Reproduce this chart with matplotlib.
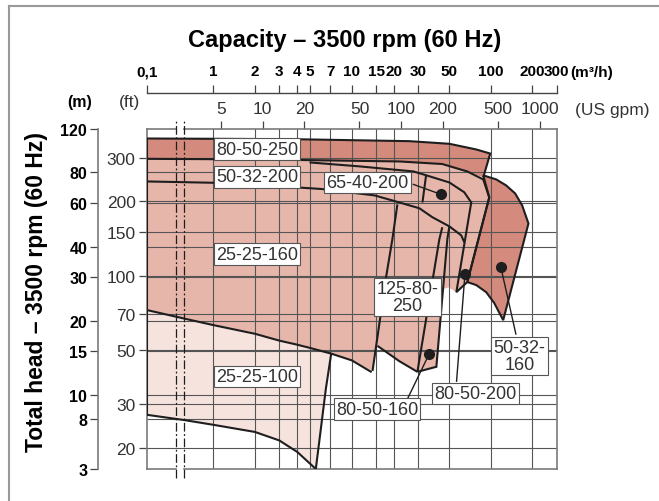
import numpy as np
import matplotlib
matplotlib.use("Agg")
import matplotlib.pyplot as plt

plt.rcParams['font.family'] = ['Liberation Sans', 'DejaVu Sans']

# ---- axis ticks ----
flow_ticks = [0.1, 1, 2, 3, 4, 5, 7, 10, 15, 20, 30, 50, 100, 200, 300]
flow_labels = ['0,1', '1', '2', '3', '4', '5', '7', '10', '15', '20', '30', '50', '100', '200', '300']
gpm_ticks = [5, 10, 20, 50, 100, 200, 500, 1000]
m_ticks = [120, 80, 60, 40, 30, 20, 15, 10, 8, 5.0]
m_labels = ['120', '80', '60', '40', '30', '20', '15', '10', '8', '3']
ft_ticks = [300, 200, 150, 100, 70, 50, 30, 20]
break_q = [0.28, 0.36]

# ---- fills (flow m3/h, head m) ----
medium_q = [0.1, 1, 4.2, 22, 44.9, 68, 88.6, 97.9, 68, 56.7, 50, 45.5, 40.7, 29.7, 22, 17.2, 15.3,
            14.1, 10, 7.1, 5, 3, 1, 0.367, 0.1]
medium_h = [90.8, 90.5, 89.8, 88.6, 86.5, 80.7, 74.9, 63.3, 28.7, 26.1, 27.3, 26.9, 13.0, 12.4, 13.7, 15.1, 15.8,
            12.5, 13.8, 14.7, 15.5, 16.6, 19.2, 20.4, 22.1]

d250_q = [0.1, 1, 4.2, 26, 50.5, 78.9, 99.5, 88.6, 68, 44.9, 22, 4.2, 1, 0.1]
d250_h = [109.8, 109.5, 109, 107.1, 104.5, 99.1, 95.4, 76.3, 80.7, 86.5, 88.6, 89.8, 90.5, 90.8]

d160_q = [88.6, 110, 129.7, 150.5, 169, 187.7, 123.4, 106.3, 93.1, 78.9, 68, 97.9, 88.6]
d160_h = [77.8, 74.9, 70.8, 65.7, 58.8, 49.6, 20.1, 23.6, 26.1, 27.9, 28.7, 63.3, 77.8]

light_q = [0.1, 0.367, 1, 2, 3, 4, 5, 7.1, 6.5, 5.5, 4.05, 3.0, 2.0, 1.0, 0.367, 0.1]
light_h = [22.1, 20.4, 19.2, 17.7, 16.6, 16.0, 15.5, 14.7, 10.6, 5.0, 5.86, 6.53, 7.07, 7.56, 7.9, 8.3]

# ---- outline curves ----
curves = [
    ([0.1, 1, 4.2, 26, 50.5, 78.9, 99.5, 88.6], [109.8, 109.5, 109, 107.1, 104.5, 99.1, 95.4, 76.3]),
    ([0.1, 1, 4.2, 22, 44.9, 68, 88.6, 97.9, 68], [90.8, 90.5, 89.8, 88.6, 86.5, 80.7, 74.9, 63.3, 28.7]),
    (d160_q, d160_h),
    ([4.96, 11.4, 27.8, 34.5, 50.5, 64.7, 72.6, 56.7, 68], [87.8, 84.6, 80.7, 77.8, 72.8, 66.4, 60.4, 26.1, 28.7]),
    ([34.3, 32.3], [77.8, 60.4]),
    ([0.1, 1, 1.84, 6.03, 14.6, 22, 30.7, 38.1, 50.5, 61.5, 64.7],
     [73.5, 72.6, 71.5, 68.5, 64.5, 60.4, 57.2, 52.6, 48.3, 44.4, 41.6]),
    ([21.3, 19.6, 17.7, 14.1], [59.3, 42.8, 30.3, 12.5]),
    ([44.9, 42.75, 29.7], [47.9, 42.8, 12.4]),
    ([15.3, 17.2, 22, 29.7], [15.8, 15.1, 13.7, 12.4]),
    ([50.5, 48.8, 40.7, 29.7], [48.3, 42.8, 13.0, 12.4]),
    ([0.1, 0.367, 1, 2, 3, 4, 5, 7.1, 10, 13.9], [22.1, 20.4, 19.2, 17.7, 16.6, 16.0, 15.5, 14.7, 13.8, 12.36]),
    ([7.1, 6.5, 5.5, 4.05, 3.0, 2.0, 1.0, 0.367, 0.1], [14.7, 10.6, 5.0, 5.86, 6.53, 7.07, 7.56, 7.9, 8.3]),
    ([0.1, 0.1], [109.8, 8.3]),
]

# ---- labels ----
labels = ['80-50-250', '50-32-200', '25-25-160', '25-25-100', '65-40-200',
          '125-80-\n250', '80-50-160', '80-50-200', '50-32-\n160']
label_q = [2.08, 2.08, 2.08, 2.08, 12.95, 25.2, 15.2, 78.1, 161.7]
label_h = [99.5, 76.7, 37.3, 11.9, 72.9, 24.9, 8.76, 10.14, 14.4]

dot_q = [44.0, 65.4, 118.8, 36.2]
dot_h = [65.1, 30.9, 32.9, 14.7]
lead_q = [27.8, 56.9, 152.3, 25.3]
lead_h = [71.5, 11.36, 17.66, 9.68]

SQ = 0.479


def fwd(x):
    lx = np.log10(np.clip(np.asarray(x, float), 1e-9, None))
    return np.where(lx >= 0, lx, lx * SQ)


def inv(y):
    y = np.asarray(y, float)
    return np.where(y >= 0, 10 ** y, 10 ** (y / SQ))


dark = '#d48a7c'
medium = '#e7b6ab'
light = '#f6e3de'
ink = '#1e1e1e'
frame = '#7a7a7a'

fig = plt.figure(figsize=(6.59, 5.02), dpi=100)
ax = fig.add_axes([146.7 / 659, 32 / 502, 410 / 659, 340 / 502])
ax.set_xscale('function', functions=(fwd, inv))
ax.set_yscale('log')
ax.set_xlim(0.1, 300)
ax.set_ylim(5.0, 120)

ax.fill(medium_q, medium_h, color=medium, lw=0, zorder=1)
ax.fill(d250_q, d250_h, color=dark, lw=0, zorder=1.1)
ax.fill(d160_q, d160_h, color=dark, lw=0, zorder=1.1)
ax.fill(light_q, light_h, color=light, lw=0, zorder=1.2)

for q in flow_ticks[1:-1]:
    ax.axvline(q, color='#555555', lw=0.8, zorder=2)
for h in m_ticks[1:-1]:
    ax.axhline(h, color='#555555', lw=0.8, zorder=2)
for f in ft_ticks:
    ax.axhline(f * 0.3048, color='#555555', lw=0.8, zorder=2)

for cq, ch in curves:
    ax.plot(cq, ch, color=ink, lw=1.5, zorder=3, solid_joinstyle='miter', solid_capstyle='butt')

for i in range(len(dot_q)):
    ax.plot([lead_q[i], dot_q[i]], [lead_h[i], dot_h[i]], color=ink, lw=1.0, zorder=4)
ax.plot(dot_q, dot_h, 'o', ms=7, color=ink, zorder=5)

for t, q, h in zip(labels, label_q, label_h):
    ax.text(q, h, t, ha='center', va='center', fontsize=13, color='#333333', zorder=6,
            linespacing=1.0,
            bbox=dict(boxstyle='square,pad=0.12', fc='white', ec='#555555', lw=0.8))

# spines / axis break
for s in ['top', 'bottom']:
    ax.spines[s].set_visible(False)
for s in ['left', 'right']:
    ax.spines[s].set_color(frame)
    ax.spines[s].set_linewidth(1.2)
xt = ax.get_xaxis_transform()
for yy in [0, 1]:
    ax.plot([0.1, break_q[0]], [yy, yy], color=frame, lw=1.2, transform=xt, clip_on=False, zorder=2)
    ax.plot([break_q[1], 300], [yy, yy], color=frame, lw=1.2, transform=xt, clip_on=False, zorder=2)
for b in break_q:
    ax.plot([b, b], [-0.025, 1.03], color=ink, lw=0.9, ls=(0, (7, 2, 1.5, 2)), transform=xt,
            clip_on=False, zorder=4)

ax.set_xticks([q * 0.2271 for q in gpm_ticks])
ax.set_xticklabels([str(g) for g in gpm_ticks])
ax.xaxis.set_minor_locator(plt.NullLocator())
ax.tick_params(axis='x', top=True, bottom=False, labeltop=True, labelbottom=False,
               direction='out', length=6, width=0.9, color='#444444', pad=3,
               labelsize=12.5, labelcolor='#333333')

ax.set_yticks([f * 0.3048 for f in ft_ticks])
ax.set_yticklabels([str(f) for f in ft_ticks])
ax.yaxis.set_minor_locator(plt.NullLocator())
ax.tick_params(axis='y', left=True, right=False, direction='out', length=6, width=0.9,
               color='#444444', pad=2, labelsize=12.5, labelcolor='#333333')

sec = ax.secondary_yaxis(-0.118, functions=(lambda v: v, lambda v: v))
sec.set_yticks(m_ticks)
sec.set_yticklabels(m_labels)
sec.yaxis.set_minor_locator(plt.NullLocator())
sec.spines['left'].set_color(frame)
sec.spines['left'].set_linewidth(1.2)
sec.tick_params(axis='y', direction='out', length=6, width=0.9, color='#444444', pad=2,
                labelsize=11.5)
for lb in sec.get_yticklabels():
    lb.set_fontweight('bold')

# m3/h axis above
ax2 = fig.add_axes([146.7 / 659, (502 - 94) / 502 - 0.01, 410 / 659, 0.01])
ax2.set_xscale('function', functions=(fwd, inv))
ax2.set_xlim(0.1, 300)
ax2.set_yticks([])
for s in ['left', 'right', 'bottom']:
    ax2.spines[s].set_visible(False)
ax2.spines['top'].set_color('#444444')
ax2.spines['top'].set_linewidth(1.0)
ax2.patch.set_visible(False)
ax2.set_xticks(flow_ticks)
ax2.set_xticklabels(flow_labels)
ax2.xaxis.set_minor_locator(plt.NullLocator())
ax2.tick_params(axis='x', top=True, bottom=False, labeltop=True, labelbottom=False,
                direction='out', length=5.5, width=0.9, color='#444444', pad=5, labelsize=11)
for lb in ax2.get_xticklabels():
    lb.set_fontweight('bold')

fig.text(345 / 659, 1 - 40 / 502, 'Capacity – 3500 rpm (60 Hz)', ha='center', va='center',
         fontsize=17, fontweight='bold')
fig.text(37 / 659, 1 - 292 / 502, 'Total head – 3500 rpm (60 Hz)', ha='center', va='center',
         rotation=90, fontsize=16.5, fontweight='bold')
fig.text(592 / 659, 1 - 73 / 502, '(m³/h)', ha='center', va='center', fontsize=11, fontweight='bold')
fig.text(612 / 659, 1 - 110 / 502, '(US gpm)', ha='center', va='center', fontsize=12.5, color='#333333')
fig.text(80 / 659, 1 - 103 / 502, '(m)', ha='center', va='center', fontsize=11.5, fontweight='bold')
fig.text(129 / 659, 1 - 103 / 502, '(ft)', ha='center', va='center', fontsize=12.5, color='#333333')

# outer frame
fig.add_artist(plt.Line2D([9 / 659, 9 / 659], [0, 1 - 7 / 502], color='#999999', lw=1.5))
fig.add_artist(plt.Line2D([9 / 659, 1], [1 - 7 / 502, 1 - 7 / 502], color='#999999', lw=1.5))

fig.savefig('out.png', dpi=100)
